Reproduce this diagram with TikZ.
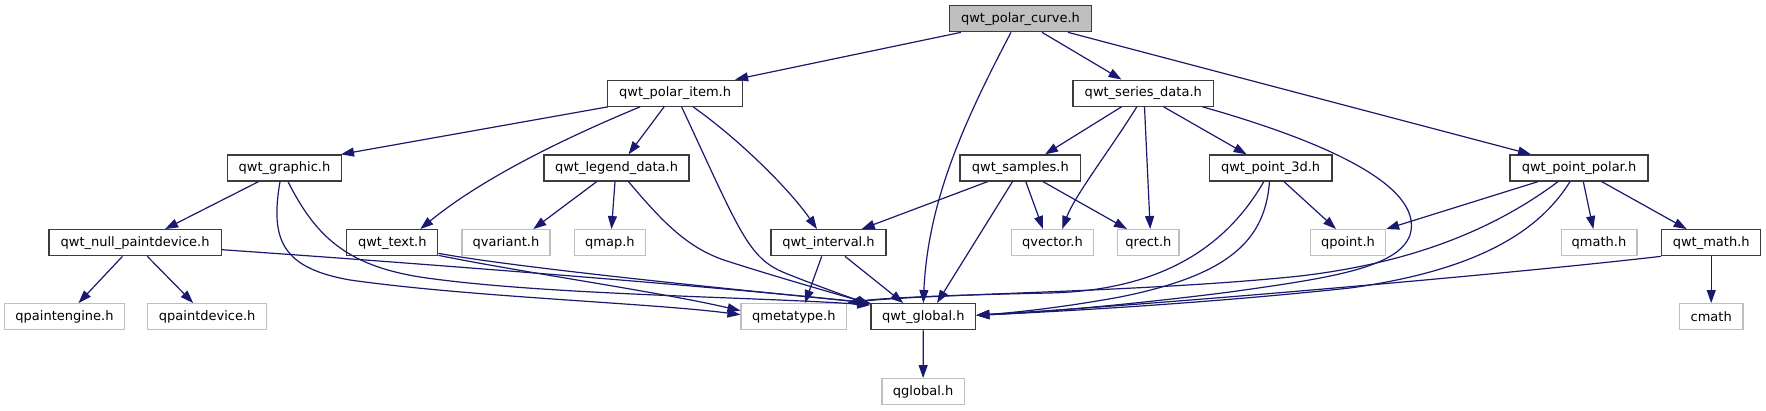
\documentclass[tikz,border=0pt]{standalone}
\usepackage{fontspec}
\setmainfont{DejaVu Sans}
\usetikzlibrary{arrows.meta,calc}
\definecolor{edgec}{RGB}{25,25,112}
\definecolor{boxc}{RGB}{60,60,60}
\definecolor{extc}{RGB}{191,191,191}
\begin{document}
\begin{tikzpicture}[x=1pt,y=-1pt,
  every node/.style={font=\fontsize{13}{15}\selectfont, inner sep=0pt, minimum height=26pt, anchor=center},
  intbox/.style={draw=boxc, line width=1.3pt, fill=white},
  extbox/.style={draw=extc, line width=1.3pt, fill=white},
  rootbox/.style={draw=boxc, line width=1.3pt, fill=extc},
  e/.style={draw=edgec, line width=1.2pt, -{Triangle[length=13pt,width=9pt]}, fill=none}]
\useasboundingbox (0,0) rectangle (1766,411);
% row 1
\node[rootbox, minimum width=141.6pt] (curve) at (1020.5,18.7) {qwt\_polar\_curve.h};
% row 2
\node[intbox, minimum width=135pt] (pitem) at (675.1,93.2) {qwt\_polar\_item.h};
\node[intbox, minimum width=140.7pt] (series) at (1143.3,93.2) {qwt\_series\_data.h};
% row 3
\node[intbox, minimum width=113.7pt] (graphic) at (284.5,168) {qwt\_graphic.h};
\node[intbox, minimum width=145.2pt] (legend) at (616.5,168) {qwt\_legend\_data.h};
\node[intbox, minimum width=120.6pt] (samples) at (1020.3,168) {qwt\_samples.h};
\node[intbox, minimum width=122.5pt] (p3d) at (1270.6,168) {qwt\_point\_3d.h};
\node[intbox, minimum width=138pt] (ppolar) at (1579,168) {qwt\_point\_polar.h};
% row 4
\node[intbox, minimum width=172.2pt] (nullpd) at (135.1,242.7) {qwt\_null\_paintdevice.h};
\node[intbox, minimum width=91pt] (text) at (392.3,242.7) {qwt\_text.h};
\node[extbox, minimum width=88pt] (qvariant) at (506,242.7) {qvariant.h};
\node[extbox, minimum width=70.6pt] (qmap) at (609.9,242.7) {qmap.h};
\node[intbox, minimum width=115pt] (interval) at (828.5,242.7) {qwt\_interval.h};
\node[extbox, minimum width=82.3pt] (qvector) at (1052.5,242.7) {qvector.h};
\node[extbox, minimum width=61.3pt] (qrect) at (1148.4,242.7) {qrect.h};
\node[extbox, minimum width=75pt] (qpoint) at (1348,242.7) {qpoint.h};
\node[extbox, minimum width=75.7pt] (qmath) at (1599,242.7) {qmath.h};
\node[intbox, minimum width=99pt] (wmath) at (1711.2,242.7) {qwt\_math.h};
% row 5
\node[extbox, minimum width=119.8pt] (qpengine) at (64.5,316.7) {qpaintengine.h};
\node[extbox, minimum width=119pt] (qpdevice) at (207.2,316.7) {qpaintdevice.h};
\node[extbox, minimum width=105.6pt] (qmetatype) at (793.9,316.7) {qmetatype.h};
\node[intbox, minimum width=104.8pt] (global) at (923.3,316.7) {qwt\_global.h};
\node[extbox, minimum width=63.4pt] (cmath) at (1711.2,316.7) {cmath};
% row 6
\node[extbox, minimum width=82.2pt] (qglobal) at (923.1,391.7) {qglobal.h};

% edges from qwt_polar_curve.h
\draw[e] ([xshift=-59.5pt]curve.south) -- ([xshift=60pt]pitem.north);
\draw[e] ([xshift=-9.5pt]curve.south) .. controls (965,120) and (928,200) .. (global.north);
\draw[e] ([xshift=21.5pt]curve.south) -- ([xshift=-21.8pt]series.north);
\draw[e] ([xshift=47.5pt]curve.south) -- ([xshift=-48pt]ppolar.north);
% edges from qwt_polar_item.h
\draw[e] ([xshift=1pt]pitem.south west) -- ([xshift=-1pt]graphic.north east);
\draw[e] ([xshift=-35pt]pitem.south) .. controls (560,140) and (480,180) .. ([xshift=28pt]text.north);
\draw[e] ([xshift=-11pt]pitem.south) -- ([xshift=12pt]legend.north);
\draw[e] ([xshift=6.5pt]pitem.south) .. controls (740,232) and (748,258) .. (785,273) .. controls (815,285) and (848,297) .. ([yshift=-1pt]global.north west);
\draw[e] ([xshift=18pt]pitem.south) .. controls (740,140) and (790,190) .. ([xshift=-11.5pt]interval.north);
% edges from qwt_graphic.h
\draw[e] ([xshift=-26pt]graphic.south) -- ([xshift=30pt]nullpd.north);
\draw[e] ([xshift=-4.5pt]graphic.south) .. controls (270,240) and (282,268) .. (350,280) .. controls (470,297) and (650,303) .. ([yshift=2pt]qmetatype.west);
\draw[e] ([xshift=3.5pt]graphic.south) .. controls (315,235) and (345,265) .. (420,277) .. controls (540,295) and (760,297) .. ([yshift=-2pt]global.north west);
% edges from qwt_null_paintdevice.h
\draw[e] ([yshift=-7pt]nullpd.east) .. controls (400,262) and (700,285) .. (global.north west);
\draw[e] ([xshift=-12.6pt]nullpd.south) -- ([xshift=14pt]qpengine.north);
\draw[e] ([xshift=12.2pt]nullpd.south) -- ([xshift=-14pt]qpdevice.north);
% edges from qwt_text.h
\draw[e] ([yshift=3pt]text.south east) .. controls (520,268) and (720,288) .. (global.north west);
\draw[e] ([yshift=1pt]text.south east) .. controls (520,272) and (660,292) .. ([yshift=6pt]qmetatype.west);
% edges from qwt_legend_data.h
\draw[e] ([xshift=12pt]legend.south) .. controls (665,225) and (690,250) .. (730,262) .. controls (780,278) and (830,292) .. ([yshift=-1pt]global.north west);
\draw[e] ([xshift=-19.8pt]legend.south) -- ([xshift=27.3pt]qvariant.north);
\draw[e] ([xshift=-1.5pt]legend.south) -- ([xshift=1.6pt]qmap.north);
% edges from qwt_interval.h
\draw[e] ([xshift=-6.8pt]interval.south) -- ([xshift=11pt]qmetatype.north);
\draw[e] ([xshift=16.5pt]interval.south) -- ([xshift=-20pt]global.north);
% edges from qwt_series_data.h
\draw[e] ([xshift=-21.8pt]series.south) -- ([xshift=24.7pt]samples.north);
\draw[e] ([xshift=-6.5pt]series.south) .. controls (1110,150) and (1075,195) .. ([xshift=9.7pt]qvector.north);
\draw[e] ([xshift=1.2pt]series.south) -- ([xshift=1.8pt]qrect.north);
\draw[e] ([xshift=20.3pt]series.south) -- ([xshift=-24pt]p3d.north);
\draw[e] ([xshift=59.2pt]series.south) .. controls (1320,140) and (1425,185) .. (1410,235) .. controls (1398,268) and (1330,278) .. (1230,292) .. controls (1120,306) and (1030,313) .. ([yshift=1.5pt]global.east);
% edges from qwt_samples.h
\draw[e] ([xshift=-32.7pt]samples.south) -- ([xshift=33.2pt]interval.north);
\draw[e] ([xshift=-7.8pt]samples.south) -- ([xshift=13.7pt]global.north);
\draw[e] ([xshift=5.5pt]samples.south) -- ([xshift=-9.5pt]qvector.north);
\draw[e] ([xshift=22.7pt]samples.south) -- ([xshift=-21.4pt]qrect.north);
% edges from qwt_point_3d.h
\draw[e] ([xshift=-6.8pt]p3d.south) .. controls (1230,240) and (1170,290) .. (1050,293) .. controls (950,295) and (880,298) .. (qmetatype.north east);
\draw[e] ([xshift=-1.1pt]p3d.south) .. controls (1265,240) and (1230,275) .. (1120,297) .. controls (1060,308) and (1010,313) .. ([yshift=1.5pt]global.east);
\draw[e] ([xshift=13.4pt]p3d.south) -- ([xshift=-12pt]qpoint.north);
% edges from qwt_point_polar.h
\draw[e] ([xshift=-41pt]ppolar.south) -- (qpoint.north east);
\draw[e] ([xshift=-21pt]ppolar.south) .. controls (1500,225) and (1420,262) .. (1300,276) .. controls (1150,292) and (920,294) .. (qmetatype.north east);
\draw[e] ([xshift=-9pt]ppolar.south) .. controls (1540,230) and (1480,270) .. (1350,288) .. controls (1200,304) and (1050,312) .. ([yshift=1.5pt]global.east);
\draw[e] ([xshift=4.3pt]ppolar.south) -- ([xshift=-5.7pt]qmath.north);
\draw[e] ([xshift=22.7pt]ppolar.south) -- ([xshift=-24.5pt]wmath.north);
% edges from qwt_math.h
\draw[e] (wmath.south west) .. controls (1500,275) and (1150,305) .. ([yshift=1.5pt]global.east);
\draw[e] (wmath.south) -- (cmath.north);
% edge from qwt_global.h
\draw[e] (global.south) -- (qglobal.north);
\end{tikzpicture}
\end{document}
